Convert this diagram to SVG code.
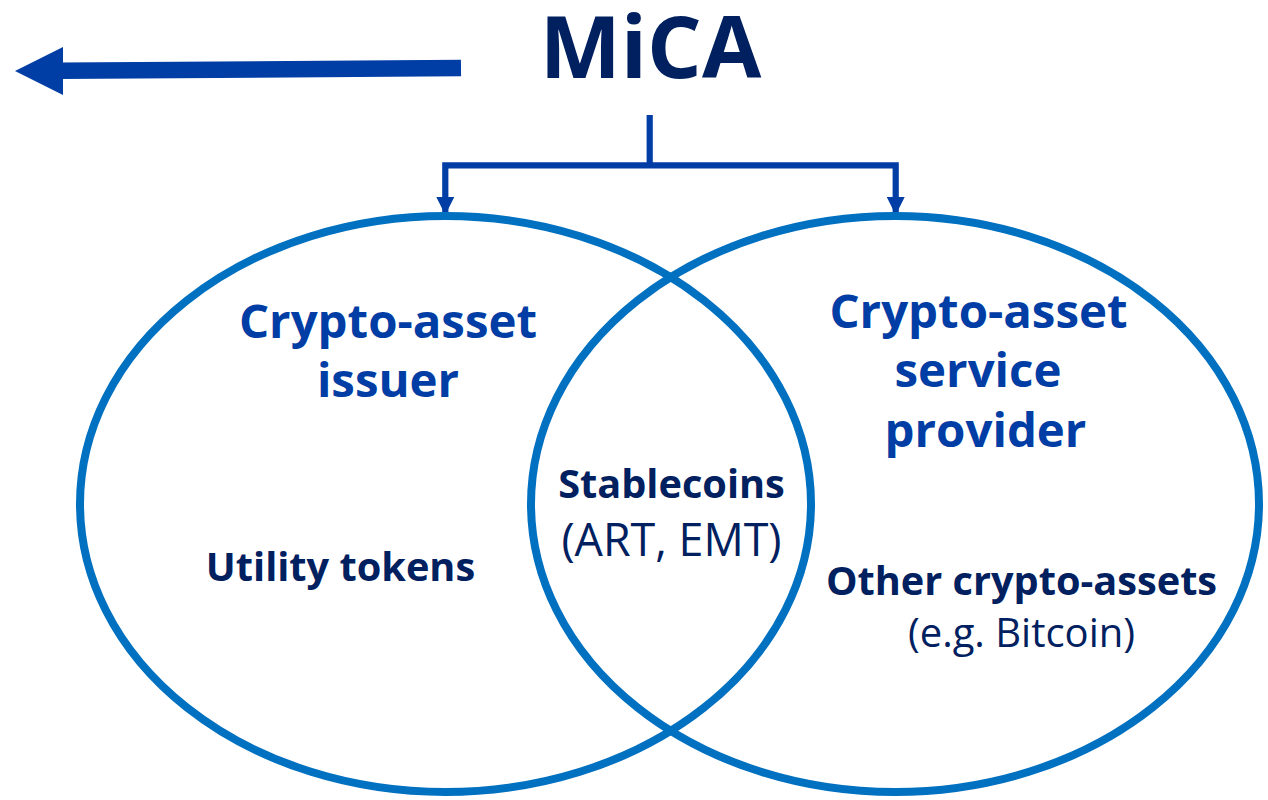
<svg xmlns="http://www.w3.org/2000/svg" width="1268" height="800" viewBox="0 0 1268 800">
<style>
text{font-family:"Open Sans","Noto Sans","Liberation Sans",sans-serif;text-anchor:middle}
.t{font-weight:700;fill:#002060;font-size:86px}
.h{font-weight:700;fill:#003da5;font-size:47.4px}
.b{font-weight:700;fill:#002060;font-size:39.7px}
.r{fill:#002060;font-size:40px}
.c{fill:none;stroke:#0070c0;stroke-width:8}
.l{fill:none;stroke:#003da5;stroke-width:6.2}
</style>
<defs><marker id="a" markerUnits="userSpaceOnUse" markerWidth="18" markerHeight="18" refX="18" refY="9" orient="auto"><path d="M0 0L18 9L0 18Z" fill="#003da5"/></marker></defs>
<rect width="1268" height="800" fill="#fff"/>
<g id="connectors">
<path d="M461 68L60 70.8" fill="none" stroke="#003da5" stroke-width="16.5"/>
<path d="M15 71L63 47V95Z" fill="#003da5"/>
<path class="l" d="M649.7 115V168"/>
<path class="l" d="M649.7 165.300H445.300V215" marker-end="url(#a)"/>
<path class="l" d="M649.7 165.300H895.700V215" marker-end="url(#a)"/>
</g>
<g id="title"><text class="t" x="650.500" y="78">MiCA</text></g>
<g id="issuer"><ellipse class="c" cx="445.500" cy="504" rx="365.500" ry="288"/>
<text class="h" x="388" y="338">Crypto-asset</text><text class="h" x="388" y="397">issuer</text>
<text class="b" x="340.500" y="581">Utility tokens</text></g>
<g id="provider"><ellipse class="c" cx="895" cy="504" rx="364" ry="288"/>
<text class="h" x="978.500" y="328">Crypto-asset</text><text class="h" x="978" y="387">service</text><text class="h" x="985.500" y="447">provider</text>
<text class="b" x="1021.500" y="595">Other crypto-assets</text><text class="r" x="1021.500" y="647">(e.g. Bitcoin)</text></g>
<g id="overlap"><text class="b" x="671.500" y="498">Stablecoins</text><text class="r" x="671.500" y="556" style="font-size:44.8px">(ART, EMT)</text></g>
</svg>
